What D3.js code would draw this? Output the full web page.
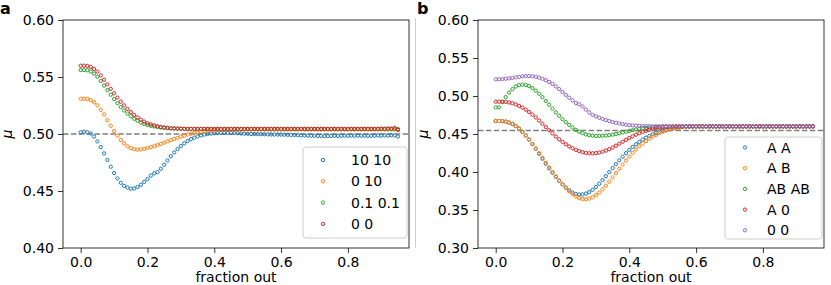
<!DOCTYPE html>
<html>
<head>
<meta charset="utf-8">
<script src="https://cdn.jsdelivr.net/npm/d3@7"></script>
<style>
  body { margin: 0; background: #fff; }
  text { font-family: "DejaVu Sans", sans-serif; }
</style>
</head>
<body>
<div id="chart"></div>
<script>
// Data
//= ================================
var fractionOut = [
  0.00, 0.01, 0.02, 0.03, 0.04, 0.05, 0.06, 0.07, 0.08, 0.09,
  0.10, 0.11, 0.12, 0.13, 0.14, 0.15, 0.16, 0.17, 0.18, 0.19,
  0.20, 0.21, 0.22, 0.23, 0.24, 0.25, 0.26, 0.27, 0.28, 0.29,
  0.30, 0.31, 0.32, 0.33, 0.34, 0.35, 0.36, 0.37, 0.38, 0.39,
  0.40, 0.41, 0.42, 0.43, 0.44, 0.45, 0.46, 0.47, 0.48, 0.49,
  0.50, 0.51, 0.52, 0.53, 0.54, 0.55, 0.56, 0.57, 0.58, 0.59,
  0.60, 0.61, 0.62, 0.63, 0.64, 0.65, 0.66, 0.67, 0.68, 0.69,
  0.70, 0.71, 0.72, 0.73, 0.74, 0.75, 0.76, 0.77, 0.78, 0.79,
  0.80, 0.81, 0.82, 0.83, 0.84, 0.85, 0.86, 0.87, 0.88, 0.89,
  0.90, 0.91, 0.92, 0.93, 0.94, 0.95
];

// panel a
var labelsA = ["10 10", "0 10", "0.1 0.1", "0 0"];

var muA_1010 = [
  0.5015, 0.5020, 0.5015, 0.5005, 0.4978, 0.4935, 0.4885, 0.4830, 0.4772, 0.4713,
  0.4657, 0.4610, 0.4572, 0.4545, 0.4530, 0.4520, 0.4522, 0.4535, 0.4555, 0.4580,
  0.4605, 0.4635, 0.4655, 0.4665, 0.4695, 0.4730, 0.4768, 0.4805, 0.4838, 0.4868,
  0.4895, 0.4918, 0.4938, 0.4955, 0.4968, 0.4979, 0.4988, 0.4995, 0.5000, 0.5004,
  0.5006, 0.5008, 0.5009, 0.5010, 0.5010, 0.5010, 0.5009, 0.5007, 0.5005, 0.5003,
  0.5002, 0.5000, 0.5000, 0.4999, 0.4998, 0.4998, 0.4997, 0.4996, 0.4996, 0.4995,
  0.4995, 0.4994, 0.4993, 0.4992, 0.4991, 0.4990, 0.4988, 0.4987, 0.4986, 0.4985,
  0.4984, 0.4983, 0.4983, 0.4982, 0.4982, 0.4983, 0.4984, 0.4983, 0.4984, 0.4985,
  0.4985, 0.4986, 0.4985, 0.4986, 0.4985, 0.4986, 0.4985, 0.4984, 0.4986, 0.4987,
  0.4985, 0.4988, 0.4986, 0.4990, 0.4987, 0.4978
];

var muA_010 = [
  0.5310, 0.5310, 0.5308, 0.5298, 0.5278, 0.5252, 0.5212, 0.5172, 0.5122, 0.5072,
  0.5026, 0.4985, 0.4948, 0.4918, 0.4892, 0.4876, 0.4867, 0.4863, 0.4865, 0.4870,
  0.4877, 0.4885, 0.4893, 0.4903, 0.4913, 0.4924, 0.4935, 0.4946, 0.4957, 0.4967,
  0.4977, 0.4986, 0.4995, 0.5003, 0.5010, 0.5016, 0.5021, 0.5025, 0.5029, 0.5032,
  0.5035, 0.5037, 0.5039, 0.5040, 0.5040, 0.5040, 0.5040, 0.5040, 0.5040, 0.5040,
  0.5040, 0.5040, 0.5040, 0.5040, 0.5040, 0.5040, 0.5040, 0.5040, 0.5040, 0.5040,
  0.5040, 0.5040, 0.5040, 0.5040, 0.5040, 0.5040, 0.5040, 0.5040, 0.5040, 0.5040,
  0.5040, 0.5040, 0.5040, 0.5040, 0.5040, 0.5040, 0.5040, 0.5040, 0.5040, 0.5040,
  0.5040, 0.5040, 0.5040, 0.5040, 0.5040, 0.5040, 0.5040, 0.5040, 0.5040, 0.5040,
  0.5040, 0.5040, 0.5040, 0.5040, 0.5040, 0.5040
];

var muA_0101 = [
  0.5561, 0.5561, 0.5559, 0.5548, 0.5530, 0.5502, 0.5465, 0.5425, 0.5385, 0.5345,
  0.5306, 0.5270, 0.5236, 0.5206, 0.5179, 0.5155, 0.5134, 0.5116, 0.5101, 0.5089,
  0.5079, 0.5072, 0.5066, 0.5061, 0.5057, 0.5054, 0.5051, 0.5049, 0.5047, 0.5046,
  0.5045, 0.5044, 0.5044, 0.5044, 0.5044, 0.5044, 0.5044, 0.5044, 0.5044, 0.5044,
  0.5044, 0.5044, 0.5044, 0.5044, 0.5044, 0.5044, 0.5044, 0.5044, 0.5044, 0.5044,
  0.5044, 0.5044, 0.5044, 0.5044, 0.5044, 0.5044, 0.5044, 0.5044, 0.5044, 0.5044,
  0.5044, 0.5044, 0.5044, 0.5044, 0.5044, 0.5044, 0.5044, 0.5044, 0.5044, 0.5044,
  0.5044, 0.5044, 0.5044, 0.5044, 0.5044, 0.5044, 0.5044, 0.5044, 0.5044, 0.5044,
  0.5044, 0.5044, 0.5044, 0.5044, 0.5044, 0.5044, 0.5044, 0.5044, 0.5044, 0.5044,
  0.5044, 0.5044, 0.5044, 0.5044, 0.5044, 0.5044
];

var muA_00 = [
  0.5599, 0.5600, 0.5597, 0.5588, 0.5571, 0.5547, 0.5514, 0.5476, 0.5436, 0.5396,
  0.5357, 0.5319, 0.5284, 0.5251, 0.5221, 0.5193, 0.5168, 0.5146, 0.5126, 0.5109,
  0.5095, 0.5084, 0.5075, 0.5068, 0.5062, 0.5058, 0.5054, 0.5051, 0.5049, 0.5048,
  0.5047, 0.5046, 0.5045, 0.5045, 0.5045, 0.5045, 0.5045, 0.5045, 0.5045, 0.5045,
  0.5045, 0.5045, 0.5045, 0.5045, 0.5045, 0.5045, 0.5045, 0.5045, 0.5045, 0.5045,
  0.5045, 0.5045, 0.5045, 0.5045, 0.5045, 0.5045, 0.5045, 0.5045, 0.5045, 0.5045,
  0.5045, 0.5045, 0.5045, 0.5045, 0.5045, 0.5045, 0.5045, 0.5045, 0.5045, 0.5045,
  0.5045, 0.5045, 0.5045, 0.5045, 0.5045, 0.5045, 0.5045, 0.5045, 0.5045, 0.5045,
  0.5045, 0.5045, 0.5045, 0.5045, 0.5045, 0.5046, 0.5045, 0.5046, 0.5045, 0.5046,
  0.5047, 0.5046, 0.5048, 0.5048, 0.5055, 0.5035
];

// panel b
var labelsB = ["A A", "A B", "AB AB", "A 0", "0 0"];

var muB_AA = [
  0.4671, 0.4671, 0.4669, 0.4663, 0.4651, 0.4632, 0.4605, 0.4570, 0.4528, 0.4480,
  0.4427, 0.4368, 0.4305, 0.4240, 0.4175, 0.4110, 0.4048, 0.3990, 0.3935, 0.3885,
  0.3838, 0.3795, 0.3758, 0.3730, 0.3712, 0.3704, 0.3705, 0.3716, 0.3736, 0.3765,
  0.3802, 0.3845, 0.3893, 0.3945, 0.3998, 0.4051, 0.4103, 0.4154, 0.4202, 0.4248,
  0.4290, 0.4330, 0.4365, 0.4397, 0.4426, 0.4452, 0.4475, 0.4496, 0.4514, 0.4530,
  0.4544, 0.4556, 0.4566, 0.4575, 0.4582, 0.4588, 0.4593, 0.4597, 0.4599, 0.4600,
  0.4600, 0.4600, 0.4600, 0.4600, 0.4600, 0.4600, 0.4600, 0.4600, 0.4600, 0.4600,
  0.4600, 0.4600, 0.4600, 0.4600, 0.4600, 0.4600, 0.4600, 0.4600, 0.4600, 0.4600,
  0.4600, 0.4600, 0.4600, 0.4600, 0.4600, 0.4600, 0.4600, 0.4600, 0.4600, 0.4600,
  0.4600, 0.4600, 0.4600, 0.4600, 0.4600, 0.4600
];

var muB_AB = [
  0.4671, 0.4671, 0.4669, 0.4663, 0.4651, 0.4632, 0.4605, 0.4570, 0.4528, 0.4480,
  0.4427, 0.4370, 0.4310, 0.4248, 0.4185, 0.4122, 0.4060, 0.4000, 0.3942, 0.3888,
  0.3838, 0.3790, 0.3746, 0.3708, 0.3678, 0.3656, 0.3644, 0.3642, 0.3650, 0.3668,
  0.3695, 0.3730, 0.3772, 0.3820, 0.3873, 0.3928, 0.3985, 0.4042, 0.4098, 0.4152,
  0.4203, 0.4252, 0.4297, 0.4338, 0.4375, 0.4408, 0.4438, 0.4465, 0.4489, 0.4510,
  0.4528, 0.4544, 0.4558, 0.4569, 0.4578, 0.4585, 0.4591, 0.4595, 0.4598, 0.4600,
  0.4600, 0.4600, 0.4600, 0.4600, 0.4600, 0.4600, 0.4600, 0.4600, 0.4600, 0.4600,
  0.4600, 0.4600, 0.4600, 0.4600, 0.4600, 0.4600, 0.4600, 0.4600, 0.4600, 0.4600,
  0.4600, 0.4600, 0.4600, 0.4600, 0.4600, 0.4600, 0.4600, 0.4600, 0.4600, 0.4600,
  0.4600, 0.4600, 0.4600, 0.4600, 0.4600, 0.4600
];

var muB_ABAB = [
  0.4850, 0.4850, 0.4920, 0.4985, 0.5045, 0.5090, 0.5125, 0.5142, 0.5150, 0.5145,
  0.5130, 0.5105, 0.5070, 0.5030, 0.4985, 0.4935, 0.4885, 0.4835, 0.4785, 0.4740,
  0.4695, 0.4655, 0.4620, 0.4585, 0.4555, 0.4530, 0.4510, 0.4495, 0.4485, 0.4478,
  0.4475, 0.4475, 0.4477, 0.4480, 0.4485, 0.4492, 0.4500, 0.4510, 0.4520, 0.4530,
  0.4540, 0.4550, 0.4560, 0.4568, 0.4575, 0.4580, 0.4585, 0.4589, 0.4592, 0.4595,
  0.4597, 0.4599, 0.4600, 0.4600, 0.4600, 0.4600, 0.4600, 0.4600, 0.4600, 0.4600,
  0.4600, 0.4600, 0.4600, 0.4600, 0.4600, 0.4600, 0.4600, 0.4600, 0.4600, 0.4600,
  0.4600, 0.4600, 0.4600, 0.4600, 0.4600, 0.4600, 0.4600, 0.4600, 0.4600, 0.4600,
  0.4600, 0.4600, 0.4600, 0.4600, 0.4600, 0.4600, 0.4600, 0.4600, 0.4600, 0.4600,
  0.4600, 0.4600, 0.4600, 0.4600, 0.4600, 0.4600
];

var muB_A0 = [
  0.4925, 0.4925, 0.4925, 0.4922, 0.4915, 0.4905, 0.4890, 0.4870, 0.4848, 0.4820,
  0.4790, 0.4755, 0.4718, 0.4677, 0.4635, 0.4592, 0.4550, 0.4508, 0.4468, 0.4430,
  0.4396, 0.4365, 0.4337, 0.4312, 0.4291, 0.4274, 0.4261, 0.4252, 0.4247, 0.4246,
  0.4249, 0.4256, 0.4267, 0.4282, 0.4300, 0.4322, 0.4346, 0.4372, 0.4398, 0.4423,
  0.4447, 0.4470, 0.4491, 0.4510, 0.4527, 0.4542, 0.4555, 0.4566, 0.4575, 0.4582,
  0.4588, 0.4592, 0.4595, 0.4597, 0.4599, 0.4600, 0.4600, 0.4600, 0.4600, 0.4600,
  0.4600, 0.4600, 0.4600, 0.4600, 0.4600, 0.4600, 0.4600, 0.4600, 0.4600, 0.4600,
  0.4600, 0.4600, 0.4600, 0.4600, 0.4600, 0.4600, 0.4600, 0.4600, 0.4600, 0.4600,
  0.4600, 0.4600, 0.4600, 0.4600, 0.4600, 0.4600, 0.4600, 0.4600, 0.4600, 0.4600,
  0.4600, 0.4600, 0.4600, 0.4600, 0.4600, 0.4600
];

var muB_00 = [
  0.5220, 0.5221, 0.5223, 0.5227, 0.5232, 0.5238, 0.5245, 0.5252, 0.5258, 0.5262,
  0.5263, 0.5260, 0.5253, 0.5242, 0.5227, 0.5208, 0.5185, 0.5158, 0.5126, 0.5091,
  0.5053, 0.5015, 0.4978, 0.4942, 0.4908, 0.4892, 0.4862, 0.4822, 0.4784, 0.4752,
  0.4733, 0.4714, 0.4698, 0.4683, 0.4670, 0.4658, 0.4647, 0.4638, 0.4630, 0.4623,
  0.4617, 0.4613, 0.4610, 0.4607, 0.4605, 0.4604, 0.4603, 0.4602, 0.4602, 0.4602,
  0.4602, 0.4602, 0.4602, 0.4602, 0.4602, 0.4602, 0.4602, 0.4602, 0.4602, 0.4602,
  0.4602, 0.4602, 0.4602, 0.4602, 0.4602, 0.4602, 0.4602, 0.4602, 0.4602, 0.4602,
  0.4602, 0.4602, 0.4602, 0.4602, 0.4602, 0.4602, 0.4602, 0.4602, 0.4602, 0.4602,
  0.4602, 0.4602, 0.4602, 0.4602, 0.4602, 0.4602, 0.4602, 0.4602, 0.4602, 0.4602,
  0.4602, 0.4602, 0.4602, 0.4602, 0.4602, 0.4602
];

// ticks and reference lines
var xTicks = [0.0, 0.2, 0.4, 0.6, 0.8];
var yTicksA = [0.40, 0.45, 0.50, 0.55, 0.60];
var yTicksB = [0.30, 0.35, 0.40, 0.45, 0.50, 0.55, 0.60];
var refA = 0.50;
var refB = 0.4545;

var colors = ["#1f77b4", "#ff7f0e", "#2ca02c", "#d62728", "#9467bd"];

// Set up chart
//= ================================
var svgWidth = 831;
var svgHeight = 285;

var svg = d3.select("#chart")
  .append("svg")
  .attr("width", svgWidth)
  .attr("height", svgHeight);

// faint divider between the two panels
svg.append("line")
  .attr("x1", 415.5).attr("x2", 415.5)
  .attr("y1", 18).attr("y2", 248)
  .attr("stroke", "#cfcfcf")
  .attr("stroke-width", 1);

function drawPanel(p) {
  var x = d3.scaleLinear()
    .domain([-0.053, 0.983])
    .range([p.left, p.right]);

  var y = d3.scaleLinear()
    .domain(p.yDomain)
    .range([p.bottom, p.top]);

  var g = svg.append("g");

  // reference line
  g.append("line")
    .attr("x1", p.left).attr("x2", p.right)
    .attr("y1", y(p.ref)).attr("y2", y(p.ref))
    .attr("stroke", "#808080")
    .attr("stroke-width", 1.5)
    .attr("stroke-dasharray", "5.5,2.4");

  // scatter series, drawn in order so later ones sit on top
  p.series.forEach(function(values, i) {
    g.append("g")
      .selectAll("circle")
      .data(values)
      .enter()
      .append("circle")
      .attr("cx", (d, j) => x(fractionOut[j]))
      .attr("cy", d => y(d))
      .attr("r", 1.65)
      .attr("fill", "none")
      .attr("stroke", colors[i])
      .attr("stroke-width", 1);
  });

  // axes
  var leftAxis = d3.axisLeft(y)
    .tickValues(p.yTicks)
    .tickFormat(d3.format(".2f"))
    .tickSize(5)
    .tickPadding(4);

  var bottomAxis = d3.axisBottom(x)
    .tickValues(xTicks)
    .tickFormat(d3.format(".1f"))
    .tickSize(5)
    .tickPadding(4);

  g.append("g")
    .attr("transform", `translate(${p.left}, 0)`)
    .call(leftAxis)
    .call(a => a.select(".domain").remove());

  g.append("g")
    .attr("transform", `translate(0, ${p.bottom})`)
    .call(bottomAxis)
    .call(a => a.select(".domain").remove());

  g.selectAll(".tick text")
    .attr("font-family", "DejaVu Sans")
    .attr("font-size", "14px")
    .attr("fill", "#000");
  g.selectAll(".tick line")
    .attr("stroke", "#000")
    .attr("stroke-width", 0.8);

  // frame
  g.append("rect")
    .attr("x", p.left)
    .attr("y", p.top)
    .attr("width", p.right - p.left)
    .attr("height", p.bottom - p.top)
    .attr("fill", "none")
    .attr("stroke", "#000")
    .attr("stroke-width", 0.8);

  // axis labels
  g.append("text")
    .attr("transform", `translate(${p.muX}, ${(p.top + p.bottom) / 2}) rotate(-90)`)
    .attr("text-anchor", "middle")
    .attr("font-size", "14px")
    .attr("font-style", "italic")
    .text("\u03bc");

  g.append("text")
    .attr("x", (p.left + p.right) / 2)
    .attr("y", 282)
    .attr("text-anchor", "middle")
    .attr("font-size", "14px")
    .text("fraction out");

  // panel letter
  g.append("text")
    .attr("x", p.letterX)
    .attr("y", 14)
    .attr("font-size", "16px")
    .attr("font-weight", "bold")
    .text(p.letter);

  // legend
  var lg = p.legend;
  g.append("rect")
    .attr("x", lg.x)
    .attr("y", lg.y)
    .attr("width", lg.w)
    .attr("height", lg.h)
    .attr("rx", 3)
    .attr("fill", "#fff")
    .attr("fill-opacity", 0.8)
    .attr("stroke", "#cccccc")
    .attr("stroke-width", 1);

  var rows = g.selectAll(".legend-row")
    .data(p.labels)
    .enter()
    .append("g")
    .attr("class", "legend-row")
    .attr("transform", (d, i) => `translate(0, ${lg.firstRow + i * lg.step})`);

  rows.append("circle")
    .attr("cx", lg.markerX)
    .attr("cy", 0)
    .attr("r", 1.65)
    .attr("fill", "none")
    .attr("stroke", (d, i) => colors[i])
    .attr("stroke-width", 1);

  rows.append("text")
    .attr("x", lg.textX)
    .attr("y", 0)
    .attr("dy", "0.36em")
    .attr("font-size", "14px")
    .text(d => d);
}

drawPanel({
  left: 63, right: 409, top: 20, bottom: 248,
  yDomain: [0.40, 0.60],
  yTicks: yTicksA,
  ref: refA,
  series: [muA_1010, muA_010, muA_0101, muA_00],
  labels: labelsA,
  muX: 12,
  letter: "a", letterX: 0,
  legend: { x: 303, y: 147, w: 104, h: 91, firstRow: 160, step: 21.3, markerX: 323, textX: 351 }
});

drawPanel({
  left: 478, right: 824, top: 20, bottom: 248,
  yDomain: [0.30, 0.60],
  yTicks: yTicksB,
  ref: refB,
  series: [muB_AA, muB_AB, muB_ABAB, muB_A0, muB_00],
  labels: labelsB,
  muX: 428,
  letter: "b", letterX: 417,
  legend: { x: 725, y: 137, w: 97, h: 102, firstRow: 147.5, step: 20.7, markerX: 745, textX: 767 }
});
</script>
</body>
</html>
